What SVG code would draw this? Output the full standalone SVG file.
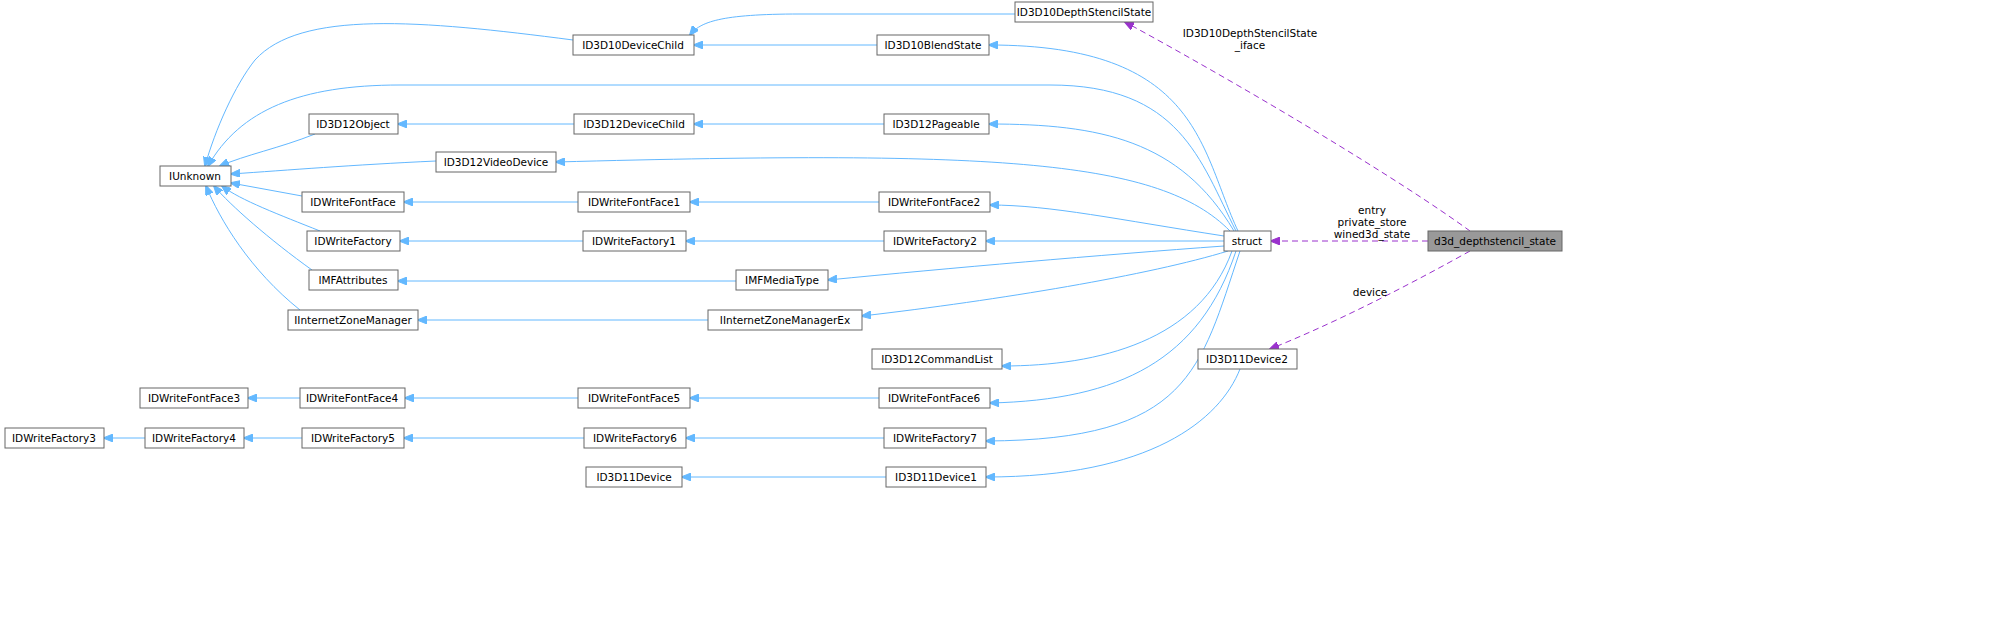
<svg xmlns="http://www.w3.org/2000/svg" width="1999" height="625" viewBox="0 0 1999 625">
<style>
.n rect{fill:#fff;stroke:#666;stroke-width:1}
.n.h rect{fill:#999;stroke:#666}
text{font-family:"DejaVu Sans",sans-serif;font-size:10.5px;fill:#000}
.n text{text-anchor:middle}
.e{fill:none;stroke:#63b8ff;stroke-width:1}
.u{fill:none;stroke:#9a32cd;stroke-width:1;stroke-dasharray:6,4}
.l{text-anchor:middle}
</style>
<defs>
<marker id="ab" markerWidth="10" markerHeight="8" refX="9" refY="4" orient="auto" markerUnits="userSpaceOnUse"><path d="M0,0 L10,4 L0,8 z" fill="#63b8ff" stroke="#63b8ff"/></marker>
<marker id="ap" markerWidth="10" markerHeight="8" refX="9" refY="4" orient="auto" markerUnits="userSpaceOnUse"><path d="M0,0 L10,4 L0,8 z" fill="#9a32cd" stroke="#9a32cd"/></marker>
</defs>
<rect width="1999" height="625" fill="#fff"/>
<g id="edges">
<path class="e" marker-end="url(#ab)" d="M1015,14 L800,14 C720,14 700,22 690,35"/>
<path class="e" marker-end="url(#ab)" d="M877,45 L694,45"/>
<path class="e" marker-end="url(#ab)" d="M573,40 C420,20 300,10 255,60 C235,85 215,130 205,166"/>
<path class="e" marker-end="url(#ab)" d="M884,124 L694,124"/>
<path class="e" marker-end="url(#ab)" d="M574,124 L398,124"/>
<path class="e" marker-end="url(#ab)" d="M315,134 C280,148 245,155 220,166"/>
<path class="e" marker-end="url(#ab)" d="M436,161 C350,165 290,170 231,174"/>
<path class="e" marker-end="url(#ab)" d="M302,196 L231,183"/>
<path class="e" marker-end="url(#ab)" d="M578,202 L404,202"/>
<path class="e" marker-end="url(#ab)" d="M879,202 L690,202"/>
<path class="e" marker-end="url(#ab)" d="M320,231 C280,215 240,200 222,186"/>
<path class="e" marker-end="url(#ab)" d="M583,241 L400,241"/>
<path class="e" marker-end="url(#ab)" d="M884,241 L686,241"/>
<path class="e" marker-end="url(#ab)" d="M312,270 C270,240 230,205 214,186"/>
<path class="e" marker-end="url(#ab)" d="M736,281 L398,281"/>
<path class="e" marker-end="url(#ab)" d="M300,310 C250,270 220,220 206,186"/>
<path class="e" marker-end="url(#ab)" d="M708,320 L418,320"/>
<path class="e" marker-end="url(#ab)" d="M300,398 L248,398"/>
<path class="e" marker-end="url(#ab)" d="M578,398 L405,398"/>
<path class="e" marker-end="url(#ab)" d="M879,398 L690,398"/>
<path class="e" marker-end="url(#ab)" d="M145,438 L104,438"/>
<path class="e" marker-end="url(#ab)" d="M302,438 L244,438"/>
<path class="e" marker-end="url(#ab)" d="M584,438 L404,438"/>
<path class="e" marker-end="url(#ab)" d="M884,438 L686,438"/>
<path class="e" marker-end="url(#ab)" d="M886,477 L682,477"/>
<path class="e" marker-end="url(#ab)" d="M1240,369 C1220,420 1150,477 986,477"/>
<!-- struct to parents -->
<path class="e" marker-end="url(#ab)" d="M1238,231 C1200,150 1200,45 989,45"/>
<path class="e" marker-end="url(#ab)" d="M1236,231 C1200,160 1180,85 1050,85 L400,85 C300,85 240,110 208,166"/>
<path class="e" marker-end="url(#ab)" d="M1234,231 C1180,140 1100,124 989,124"/>
<path class="e" marker-end="url(#ab)" d="M1230,231 C1160,160 1000,150 556,162"/>
<path class="e" marker-end="url(#ab)" d="M1224,236 C1120,220 1050,205 990,205"/>
<path class="e" marker-end="url(#ab)" d="M1224,241 L986,241"/>
<path class="e" marker-end="url(#ab)" d="M1224,246 C1100,255 950,268 828,280"/>
<path class="e" marker-end="url(#ab)" d="M1228,251 C1150,275 1000,300 862,316"/>
<path class="e" marker-end="url(#ab)" d="M1232,251 C1200,340 1100,366 1002,366"/>
<path class="e" marker-end="url(#ab)" d="M1236,251 C1200,360 1120,400 990,403"/>
<path class="e" marker-end="url(#ab)" d="M1240,251 C1200,370 1190,440 986,441"/>
<path class="u" marker-end="url(#ap)" d="M1470,231 C1400,180 1250,90 1125,22"/>
<path class="u" marker-end="url(#ap)" d="M1428,241 L1271,241"/>
<path class="u" marker-end="url(#ap)" d="M1470,251 C1400,290 1330,325 1270,349"/>
</g>
<text class="l" x="1250" y="37">ID3D10DepthStencilState</text>
<text class="l" x="1250" y="49">_iface</text>
<text class="l" x="1372" y="214">entry</text>
<text class="l" x="1372" y="226">private_store</text>
<text class="l" x="1372" y="238">wined3d_state</text>
<text class="l" x="1370" y="296">device</text>
<g id="n1" class="n"><rect x="1015" y="2" width="138" height="20"/><text x="1084" y="16">ID3D10DepthStencilState</text></g>
<g id="n2" class="n"><rect x="573" y="35" width="121" height="20"/><text x="633" y="49">ID3D10DeviceChild</text></g>
<g id="n3" class="n"><rect x="877" y="35" width="112" height="20"/><text x="933" y="49">ID3D10BlendState</text></g>
<g id="n4" class="n"><rect x="309" y="114" width="89" height="20"/><text x="353" y="128">ID3D12Object</text></g>
<g id="n5" class="n"><rect x="574" y="114" width="120" height="20"/><text x="634" y="128">ID3D12DeviceChild</text></g>
<g id="n6" class="n"><rect x="884" y="114" width="105" height="20"/><text x="936" y="128">ID3D12Pageable</text></g>
<g id="n7" class="n"><rect x="436" y="152" width="120" height="20"/><text x="496" y="166">ID3D12VideoDevice</text></g>
<g id="n8" class="n"><rect x="160" y="166" width="71" height="20"/><text x="195" y="180">IUnknown</text></g>
<g id="n9" class="n"><rect x="302" y="192" width="102" height="20"/><text x="353" y="206">IDWriteFontFace</text></g>
<g id="n10" class="n"><rect x="578" y="192" width="112" height="20"/><text x="634" y="206">IDWriteFontFace1</text></g>
<g id="n11" class="n"><rect x="879" y="192" width="111" height="20"/><text x="934" y="206">IDWriteFontFace2</text></g>
<g id="n12" class="n"><rect x="307" y="231" width="93" height="20"/><text x="353" y="245">IDWriteFactory</text></g>
<g id="n13" class="n"><rect x="583" y="231" width="103" height="20"/><text x="634" y="245">IDWriteFactory1</text></g>
<g id="n14" class="n"><rect x="884" y="231" width="102" height="20"/><text x="935" y="245">IDWriteFactory2</text></g>
<g id="n15" class="n"><rect x="1224" y="231" width="47" height="20"/><text x="1247" y="245">struct</text></g>
<g id="n16" class="n h"><rect x="1428" y="231" width="134" height="20"/><text x="1495" y="245">d3d_depthstencil_state</text></g>
<g id="n17" class="n"><rect x="309" y="270" width="89" height="20"/><text x="353" y="284">IMFAttributes</text></g>
<g id="n18" class="n"><rect x="736" y="270" width="92" height="20"/><text x="782" y="284">IMFMediaType</text></g>
<g id="n19" class="n"><rect x="288" y="310" width="130" height="20"/><text x="353" y="324">IInternetZoneManager</text></g>
<g id="n20" class="n"><rect x="708" y="310" width="154" height="20"/><text x="785" y="324">IInternetZoneManagerEx</text></g>
<g id="n21" class="n"><rect x="872" y="349" width="130" height="20"/><text x="937" y="363">ID3D12CommandList</text></g>
<g id="n22" class="n"><rect x="1198" y="349" width="99" height="20"/><text x="1247" y="363">ID3D11Device2</text></g>
<g id="n23" class="n"><rect x="140" y="388" width="108" height="20"/><text x="194" y="402">IDWriteFontFace3</text></g>
<g id="n24" class="n"><rect x="300" y="388" width="105" height="20"/><text x="352" y="402">IDWriteFontFace4</text></g>
<g id="n25" class="n"><rect x="578" y="388" width="112" height="20"/><text x="634" y="402">IDWriteFontFace5</text></g>
<g id="n26" class="n"><rect x="879" y="388" width="111" height="20"/><text x="934" y="402">IDWriteFontFace6</text></g>
<g id="n27" class="n"><rect x="5" y="428" width="99" height="20"/><text x="54" y="442">IDWriteFactory3</text></g>
<g id="n28" class="n"><rect x="145" y="428" width="99" height="20"/><text x="194" y="442">IDWriteFactory4</text></g>
<g id="n29" class="n"><rect x="302" y="428" width="102" height="20"/><text x="353" y="442">IDWriteFactory5</text></g>
<g id="n30" class="n"><rect x="584" y="428" width="102" height="20"/><text x="635" y="442">IDWriteFactory6</text></g>
<g id="n31" class="n"><rect x="884" y="428" width="102" height="20"/><text x="935" y="442">IDWriteFactory7</text></g>
<g id="n32" class="n"><rect x="586" y="467" width="96" height="20"/><text x="634" y="481">ID3D11Device</text></g>
<g id="n33" class="n"><rect x="886" y="467" width="100" height="20"/><text x="936" y="481">ID3D11Device1</text></g>
</svg>
